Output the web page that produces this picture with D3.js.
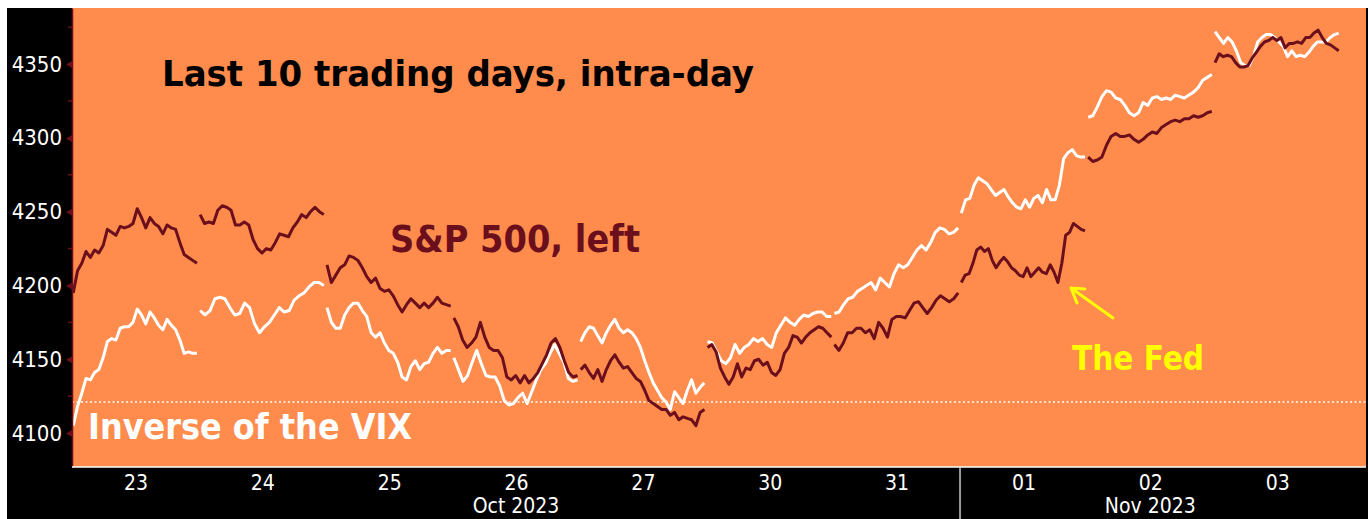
<!DOCTYPE html>
<html>
<head>
<meta charset="utf-8">
<script src="https://d3js.org/d3.v7.min.js"></script>
<style>
  html, body { margin: 0; padding: 0; background: #ffffff; }
  svg { display: block; }
  .lbl { font-family: "DejaVu Sans Condensed", "DejaVu Sans", sans-serif; font-stretch: condensed; }
</style>
</head>
<body>
<div id="chart"></div>
<script>
// trading days shown on the x axis
const days = ["23", "24", "25", "26", "27", "30", "31", "01", "02", "03"];
const months = [
  {label: "Oct 2023", first: 0, last: 6},
  {label: "Nov 2023", first: 7, last: 9}
];
const yTicks = [4100, 4150, 4200, 4250, 4300, 4350];
const yMinor = [4125, 4175, 4225, 4275, 4325, 4375];
const vixRef = 4121; // dotted reference line

// S&P 500 intraday, one array per session (left axis)
const spx = [
  [4195,4210,4215,4223,4219,4224,4222,4227,4238,4236,4234,4240,4239,4240,4242,4252,4246,4239,4246,4242,4240,4235,4241,4239,4238,4229,4221,4219,4217,4215],
  [4248,4242,4243,4242,4251,4254,4253,4251,4241,4241,4243,4241,4231,4225,4222,4225,4224,4229,4235,4234,4233,4239,4243,4248,4246,4250,4253,4250,4248],
  [4214,4202,4207,4212,4214,4220,4219,4217,4212,4206,4202,4205,4198,4196,4197,4193,4187,4182,4187,4191,4188,4185,4188,4185,4188,4192,4188,4187,4186],
  [4178,4172,4163,4158,4161,4165,4175,4165,4158,4156,4156,4151,4138,4136,4139,4134,4139,4134,4137,4141,4147,4153,4161,4164,4158,4149,4141,4138,4139],
  [4143,4146,4141,4137,4143,4135,4143,4149,4153,4148,4144,4145,4141,4137,4135,4129,4122,4120,4118,4116,4116,4112,4114,4109,4111,4110,4109,4105,4114,4116],
  [4158,4160,4155,4144,4138,4133,4138,4147,4138,4144,4143,4149,4150,4146,4148,4141,4139,4143,4154,4158,4166,4165,4161,4165,4168,4170,4172,4171,4168,4165],
  [4160,4156,4161,4168,4168,4171,4171,4168,4170,4164,4175,4171,4165,4177,4179,4179,4178,4183,4188,4189,4185,4181,4185,4190,4193,4191,4189,4191,4195],
  [4202,4207,4208,4215,4224,4226,4223,4225,4217,4212,4216,4219,4216,4212,4210,4207,4206,4212,4206,4209,4212,4209,4208,4214,4209,4202,4215,4234,4236,4242,4240,4238,4237],
  [4287,4284,4285,4287,4295,4301,4303,4301,4301,4302,4299,4297,4299,4302,4304,4303,4307,4309,4311,4312,4311,4313,4313,4315,4314,4315,4317,4318],
  [4351,4357,4355,4356,4355,4351,4348,4348,4349,4354,4358,4362,4365,4366,4368,4366,4368,4361,4364,4364,4365,4364,4368,4368,4371,4373,4368,4364,4363,4361,4359]
];

// inverse of the VIX, rescaled onto the left axis
const invVix = [
  [4105,4118,4127,4137,4136,4141,4143,4151,4162,4164,4163,4171,4172,4172,4175,4184,4180,4174,4182,4178,4173,4170,4177,4173,4170,4163,4154,4155,4154,4154],
  [4183,4180,4183,4191,4192,4191,4185,4180,4181,4188,4185,4174,4168,4172,4175,4180,4185,4182,4183,4190,4193,4195,4199,4202,4202,4200],
  [4185,4175,4171,4171,4180,4185,4188,4188,4183,4179,4168,4165,4168,4161,4156,4154,4148,4138,4136,4145,4149,4143,4147,4148,4154,4158,4154,4156,4156],
  [4151,4143,4135,4139,4148,4156,4147,4139,4138,4138,4132,4122,4119,4120,4124,4127,4120,4128,4136,4143,4147,4154,4160,4154,4148,4137,4135,4136],
  [4162,4168,4172,4171,4166,4161,4168,4173,4177,4171,4168,4170,4168,4164,4158,4149,4141,4134,4129,4124,4121,4116,4128,4124,4120,4129,4136,4127,4131,4134],
  [4162,4161,4155,4149,4147,4151,4160,4154,4158,4160,4164,4162,4164,4160,4158,4168,4173,4178,4175,4173,4177,4180,4179,4181,4182,4182,4179,4179],
  [4181,4182,4187,4191,4192,4196,4198,4200,4202,4197,4205,4202,4199,4208,4214,4212,4214,4219,4224,4227,4224,4229,4236,4239,4238,4235,4236,4239],
  [4249,4258,4259,4268,4273,4271,4269,4265,4261,4263,4265,4260,4256,4253,4252,4258,4253,4259,4261,4256,4265,4258,4258,4268,4286,4290,4292,4288,4287,4287],
  [4314,4315,4321,4328,4332,4331,4327,4326,4322,4317,4315,4317,4324,4322,4327,4328,4326,4327,4326,4329,4328,4327,4329,4331,4334,4339,4341,4343],
  [4372,4368,4364,4368,4365,4359,4351,4349,4349,4355,4365,4368,4370,4370,4368,4365,4362,4355,4359,4355,4356,4355,4358,4362,4365,4365,4365,4368,4370,4371]
];

const W = 1368, H = 519;
const plot = {left: 72, right: 1366, top: 8, bottom: 467};
const orange = "#ff8b4d";
const maroon = "#6b0f1c";

const svg = d3.select("#chart").append("svg")
  .attr("width", W).attr("height", H);

// black frame + orange plot area
svg.append("rect").attr("x", 7).attr("y", 8).attr("width", W - 7).attr("height", H - 8).attr("fill", "#000");
svg.append("rect").attr("x", plot.left).attr("y", plot.top)
  .attr("width", plot.right - plot.left).attr("height", plot.bottom - plot.top).attr("fill", orange);

const x = d3.scaleLinear().domain([0, 10.2]).range([plot.left, plot.right]);
const y = d3.scaleLinear().domain([4077, 4388]).range([plot.bottom, plot.top]);

// each session spread over its day slot
function dayPoints(vals, d) {
  const n = vals.length;
  return vals.map((v, i) => [d + 0.01 + 0.975 * i / (n - 1), v]);
}
const line = d3.line().x(p => x(p[0])).y(p => y(p[1]));

// dotted reference
svg.append("line")
  .attr("x1", plot.left).attr("x2", plot.right)
  .attr("y1", y(vixRef)).attr("y2", y(vixRef))
  .attr("stroke", "#fff").attr("stroke-width", 1.5).attr("stroke-dasharray", "2,2.5");

// series
svg.append("g").selectAll("path").data(invVix).join("path")
  .attr("d", (vals, d) => line(dayPoints(vals, d)))
  .attr("fill", "none").attr("stroke", "#ffffff").attr("stroke-width", 3)
  .attr("stroke-linejoin", "round");
svg.append("g").selectAll("path").data(spx).join("path")
  .attr("d", (vals, d) => line(dayPoints(vals, d)))
  .attr("fill", "none").attr("stroke", maroon).attr("stroke-width", 3)
  .attr("stroke-linejoin", "round");

// left axis
const yAxis = svg.append("g").attr("transform", `translate(${plot.left},0)`)
  .call(d3.axisLeft(y).tickValues(yTicks).tickFormat(d3.format("d")).tickSize(0).tickPadding(10));
yAxis.select(".domain").attr("stroke", maroon).attr("stroke-width", 1.5);
yAxis.selectAll(".tick text").attr("class", "lbl").attr("fill", "#fff").attr("font-size", 22);
yAxis.selectAll(".tick").append("path")
  .attr("d", "M0,-3.5L-6,0L0,3.5Z").attr("fill", maroon);
svg.append("g").selectAll("line").data(yMinor).join("line")
  .attr("x1", plot.left - 4).attr("x2", plot.left)
  .attr("y1", d => y(d)).attr("y2", d => y(d))
  .attr("stroke", maroon).attr("stroke-width", 1.5);

// bottom axis
const xAxis = svg.append("g").attr("transform", `translate(0,${plot.bottom})`)
  .call(d3.axisBottom(x).tickValues(days.map((_, i) => i + 0.5))
    .tickFormat((_, i) => days[i]).tickSize(0).tickPadding(8));
xAxis.select(".domain").attr("stroke", "#fff").attr("stroke-width", 1.5)
  .attr("d", `M${plot.left},0H${plot.right}`);
xAxis.selectAll(".tick text").attr("class", "lbl").attr("fill", "#fff").attr("font-size", 21);

svg.append("g").selectAll("text").data(months).join("text")
  .attr("class", "lbl")
  .attr("x", m => x((m.first + m.last + 1) / 2))
  .attr("y", 513)
  .attr("text-anchor", "middle").attr("fill", "#fff").attr("font-size", 21)
  .text(m => m.label);
svg.append("g").selectAll("line").data(months.slice(1)).join("line")
  .attr("x1", m => x(m.first)).attr("x2", m => x(m.first))
  .attr("y1", plot.bottom + 1).attr("y2", H)
  .attr("stroke", "#9a9a9a").attr("stroke-width", 2);

// annotations
function label(txt, px, py, fill, size, len) {
  svg.append("text").attr("class", "lbl")
    .attr("x", px).attr("y", py)
    .attr("font-size", size).attr("font-weight", "bold").attr("fill", fill)
    .attr("textLength", len).attr("lengthAdjust", "spacingAndGlyphs")
    .text(txt);
}
label("Last 10 trading days, intra-day", 162, 86, "#000", 36, 592);
label("S&P 500, left", 390, 252, maroon, 37, 250);
label("Inverse of the VIX", 88, 439, "#fff", 36, 324);
label("The Fed", 1072, 370, "#ffff00", 34, 132);

// arrow to the Fed move
svg.append("path")
  .attr("d", "M1113,318L1071,288M1071,288L1077,303M1071,288L1085,289")
  .attr("fill", "none").attr("stroke", "#ffff00").attr("stroke-width", 3)
  .attr("stroke-linecap", "round");
</script>
</body>
</html>
